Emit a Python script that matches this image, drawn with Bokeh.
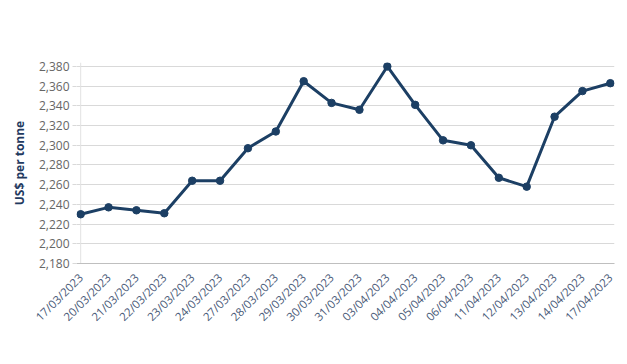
import math
from bokeh.plotting import figure
from bokeh.models import Range1d, FixedTicker, NumeralTickFormatter, Span
from bokeh.embed import file_html
from bokeh.resources import INLINE

dates = ["17/03/2023", "20/03/2023", "21/03/2023", "22/03/2023", "23/03/2023",
         "24/03/2023", "27/03/2023", "28/03/2023", "29/03/2023", "30/03/2023",
         "31/03/2023", "03/04/2023", "04/04/2023", "05/04/2023", "06/04/2023",
         "11/04/2023", "12/04/2023", "13/04/2023", "14/04/2023", "17/04/2023"]
prices = [2230, 2237, 2234, 2231, 2264, 2264, 2297, 2314, 2365, 2343,
          2336, 2380, 2341, 2305, 2300, 2267, 2258, 2329, 2355, 2363]
y_ticks = [2180, 2200, 2220, 2240, 2260, 2280, 2300, 2320, 2340, 2360, 2380]

xs = list(range(len(dates)))

p = figure(width=619, height=348, output_backend="svg", toolbar_location=None,
           x_range=Range1d(-0.15, len(dates) - 1 + 0.15), y_range=Range1d(2180, 2384),
           min_border_left=76, min_border_right=5, min_border_top=62,
           min_border_bottom=85)
p.outline_line_color = None
p.background_fill_color = "white"
p.border_fill_color = "white"

p.add_layout(Span(location=0, dimension="height", line_color="#e3e3e3",
                  line_width=1, level="underlay"))

line_color = "#1c3f64"
p.line(xs, prices, line_color=line_color, line_width=3)
p.scatter(xs, prices, size=7.5, fill_color=line_color, line_color=line_color)

# x axis
p.xaxis.ticker = FixedTicker(ticks=xs)
p.xaxis.major_label_overrides = {i: d for i, d in enumerate(dates)}
p.xaxis.major_label_orientation = math.pi / 4
p.xaxis.major_tick_line_color = None
p.xaxis.minor_tick_line_color = None
p.xaxis.axis_line_color = "#bfbfbf"
p.xaxis.major_label_text_font = "Open Sans"
p.xaxis.major_label_text_font_size = "11.5px"
p.xaxis.major_label_text_color = "#4a5a78"
p.xaxis.major_label_standoff = 6
p.xgrid.grid_line_color = None

# y axis
p.yaxis.ticker = FixedTicker(ticks=y_ticks)
p.yaxis.formatter = NumeralTickFormatter(format="0,0")
p.yaxis.major_tick_out = 4
p.yaxis.major_tick_in = 0
p.yaxis.major_tick_line_color = "#d9d9d9"
p.yaxis.minor_tick_line_color = None
p.yaxis.axis_line_color = None
p.yaxis.major_label_text_font = "Open Sans"
p.yaxis.major_label_text_font_size = "12px"
p.yaxis.major_label_text_color = "#666666"
p.yaxis.major_label_standoff = 3
p.yaxis.axis_label = "US$ per tonne"
p.yaxis.axis_label_text_font = "Open Sans"
p.yaxis.axis_label_text_font_size = "12px"
p.yaxis.axis_label_text_font_style = "bold"
p.yaxis.axis_label_text_color = "#1f3a5f"
p.yaxis.axis_label_standoff = 8
p.ygrid.grid_line_color = "#d9d9d9"

open("out.html", "w").write(file_html(p, INLINE))
